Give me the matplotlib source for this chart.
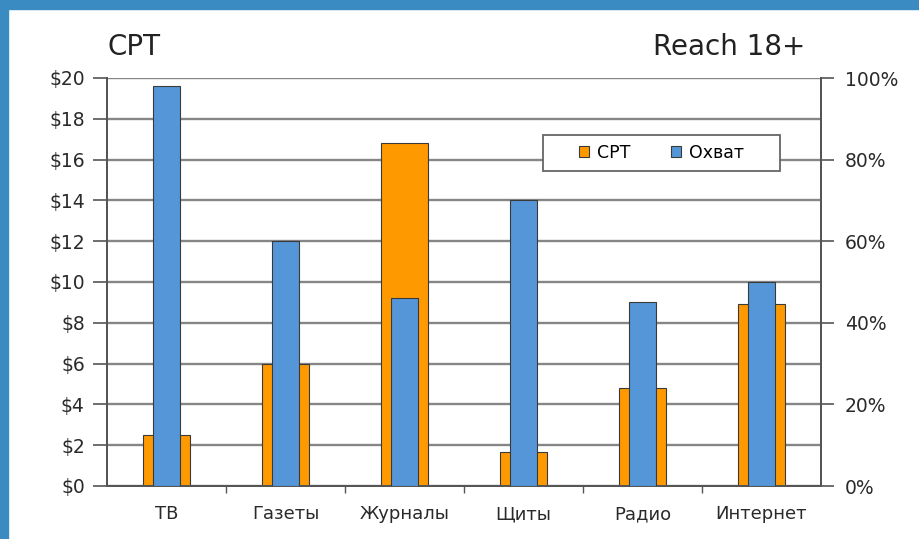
import matplotlib.pyplot as plt
import numpy as np
from matplotlib.patches import Rectangle

# media channels
categories = ["ТВ", "Газеты", "Журналы", "Щиты", "Радио", "Интернет"]
cpt_values = [2.5, 6.0, 16.8, 1.65, 4.8, 8.9]       # $ per thousand
reach_values = [98, 60, 46, 70, 45, 50]              # % reach 18+
cpt_ticks = list(range(0, 21, 2))
reach_ticks = list(range(0, 101, 20))

ORANGE = "#FF9900"
BLUE = "#5596D8"
FRAME = "#3A8BC1"
GRID = "#868686"
SPINE = "#555555"
TEXT = "#2a2a2a"

plt.rcParams["font.family"] = ["DejaVu Sans"]

fig = plt.figure(figsize=(9.2, 5.39), dpi=100)
fig.patch.set_facecolor("white")

# blue frame along top and left edges
fig.add_artist(Rectangle((0, 1 - 9 / 539), 1, 9 / 539, transform=fig.transFigure,
                         color=FRAME, zorder=0))
fig.add_artist(Rectangle((0, 0), 8 / 920, 1, transform=fig.transFigure,
                         color=FRAME, zorder=0))

ax = fig.add_axes([107 / 920, 1 - 486 / 539, 714 / 920, 408 / 539])
x = np.arange(len(categories))

ax.bar(x, cpt_values, width=0.40, color=ORANGE, edgecolor="#3a3a3a",
       linewidth=0.8, label="CPT", zorder=2)
ax.set_xlim(-0.5, len(categories) - 0.5)
ax.set_ylim(0, 20)
ax.set_yticks(cpt_ticks)
ax.set_yticklabels([f"${v}" for v in cpt_ticks])
ax.yaxis.grid(True, color=GRID, linewidth=1.7)
ax.set_axisbelow(True)

# category labels centred, ticks on boundaries
ax.set_xticks(x)
ax.set_xticklabels(categories)
ax.tick_params(axis="x", length=0, pad=14, labelsize=13, colors=TEXT)
ax.set_xticks(np.arange(0.5, len(categories) - 0.5, 1), minor=True)
ax.tick_params(axis="x", which="minor", length=5, width=1, color=SPINE,
               direction="out")
ax.tick_params(axis="y", length=10, width=1.2, color=SPINE, labelsize=13.5,
               labelcolor=TEXT, pad=6)

ax2 = ax.twinx()
ax2.bar(x, reach_values, width=0.23, color=BLUE, edgecolor="#3a3a3a",
        linewidth=0.8, label="Охват", zorder=3)
ax2.set_ylim(0, 100)
ax2.set_yticks(reach_ticks)
ax2.set_yticklabels([f"{v}%" for v in reach_ticks])
ax2.tick_params(axis="y", length=9, width=1.2, color=SPINE, labelsize=13.5,
                labelcolor=TEXT, pad=8)

for a in (ax, ax2):
    a.spines["top"].set_visible(False)
    for side in ("left", "right", "bottom"):
        a.spines[side].set_color(SPINE)
        a.spines[side].set_linewidth(1.4)

# legend box drawn separately so its size matches the original
box = Rectangle((0.61, 0.772), 0.333, 0.088, transform=ax2.transAxes,
                facecolor="white", edgecolor="#666666", linewidth=1.3, zorder=4)
ax2.add_patch(box)
handles = ax.get_legend_handles_labels()[0] + ax2.get_legend_handles_labels()[0]
labels = ["CPT", "Охват"]
leg = ax2.legend(handles, labels, ncol=2, loc="center",
                 bbox_to_anchor=(0.61 + 0.333 / 2, 0.772 + 0.088 / 2),
                 fontsize=12.5, frameon=False,
                 handlelength=0.6, handleheight=0.6, handletextpad=0.45,
                 columnspacing=2.3, borderpad=0.2)
leg.set_zorder(5)

fig.text(108 / 920, 1 - 47 / 539, "CPT", fontsize=20, color="#222222",
         va="center", ha="left")
fig.text(805 / 920, 1 - 47 / 539, "Reach 18+", fontsize=20, color="#222222",
         va="center", ha="right")

fig.savefig("out.png", dpi=100)
